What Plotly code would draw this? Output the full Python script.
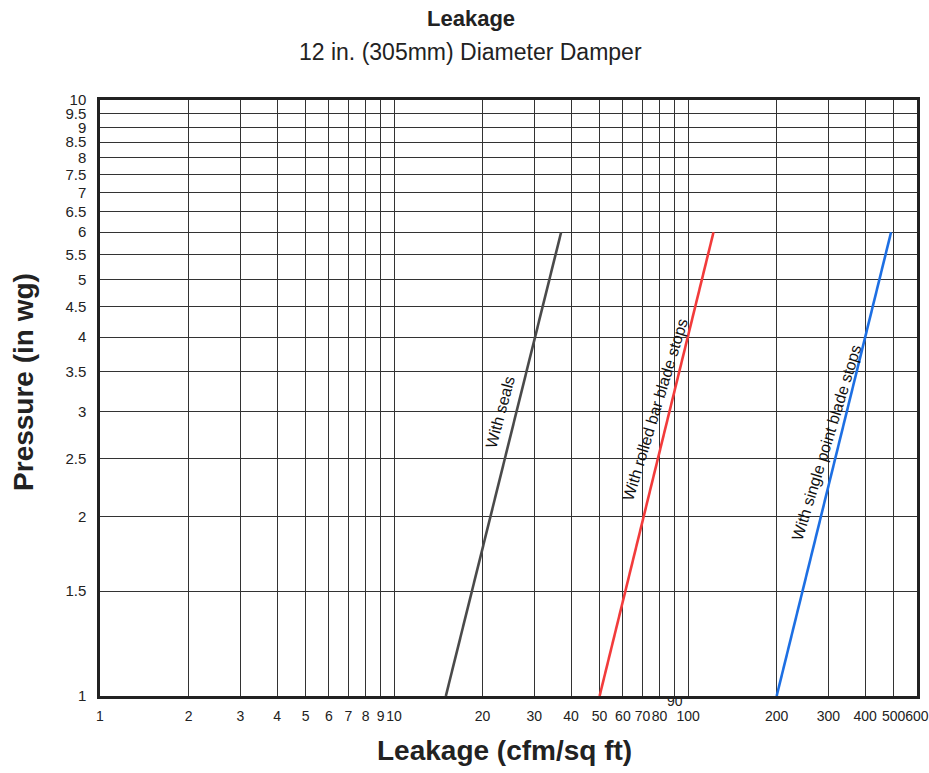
import math
import plotly.graph_objects as go

# ---- data ----
series_names = ["With seals", "With rolled bar blade stops", "With single point blade stops"]
leak_start = [15, 50, 200]       # cfm/sq ft at 1 in wg
leak_end = [37, 122, 490]        # cfm/sq ft at 6 in wg
pressure_start = [1, 1, 1]
pressure_end = [6, 6, 6]
line_colors = ["#4a4a4a", "#f23b3b", "#1d6fe3"]

x_ticks = [1, 2, 3, 4, 5, 6, 7, 8, 9, 10, 20, 30, 40, 50, 60, 70, 80, 90, 100, 200, 300, 400, 500, 600]
x_labels = ["1", "2", "3", "4", "5", "6", "7", "8", "9", "10", "20", "30", "40", "50", "60", "70", "80", "", "100", "200", "300", "400", "500", "600"]
y_ticks = [1, 1.5, 2, 2.5, 3, 3.5, 4, 4.5, 5, 5.5, 6, 6.5, 7, 7.5, 8, 8.5, 9, 9.5, 10]
y_labels = ["1", "1.5", "2", "2.5", "3", "3.5", "4", "4.5", "5", "5.5", "6", "6.5", "7", "7.5", "8", "8.5", "9", "9.5", "10"]

# label positions (data coordinates) and angles
label_x = [23.0, 77.5, 296]
label_y = [3.0, 3.02, 2.66]
label_angle = [-75, -73, -73]

FONT = "Liberation Sans, Arial, Helvetica, sans-serif"

fig = go.Figure()
for i, name in enumerate(series_names):
    fig.add_trace(go.Scatter(
        x=[leak_start[i], leak_end[i]],
        y=[pressure_start[i], pressure_end[i]],
        mode="lines",
        line=dict(color=line_colors[i], width=2.6),
        name=name,
        showlegend=False,
        hoverinfo="skip",
    ))
    fig.add_annotation(
        x=math.log10(label_x[i]), y=math.log10(label_y[i]),
        xref="x", yref="y",
        text=name, showarrow=False, textangle=label_angle[i],
        xanchor="center", yanchor="middle",
        font=dict(family=FONT, size=16, color="#111"),
    )

# shifted "90" tick label
fig.add_annotation(
    x=math.log10(90), y=-0.009, xref="x", yref="paper",
    text="90", showarrow=False, xanchor="center", yanchor="middle",
    font=dict(family=FONT, size=14, color="#222"),
)

# titles
fig.add_annotation(x=0.4535, y=1.137, xref="paper", yref="paper", text="<b>Leakage</b>",
                   showarrow=False, xanchor="center", yanchor="middle",
                   font=dict(family=FONT, size=22, color="#222"))
fig.add_annotation(x=0.4535, y=1.080, xref="paper", yref="paper", text="12 in. (305mm) Diameter Damper",
                   showarrow=False, xanchor="center", yanchor="middle",
                   font=dict(family=FONT, size=23, color="#222"))
fig.add_annotation(x=0.4957, y=-0.091, xref="paper", yref="paper", text="<b>Leakage (cfm/sq ft)</b>",
                   showarrow=False, xanchor="center", yanchor="middle",
                   font=dict(family=FONT, size=28, color="#222"))
fig.add_annotation(x=-0.093, y=0.527, xref="paper", yref="paper", text="<b>Pressure (in wg)</b>",
                   showarrow=False, textangle=-90, xanchor="center", yanchor="middle",
                   font=dict(family=FONT, size=28, color="#222"))

fig.update_xaxes(
    type="log", range=[0, math.log10(600.3)],
    tickvals=x_ticks, ticktext=x_labels, tickangle=0,
    showgrid=True, gridcolor="#333", gridwidth=1,
    showline=True, linecolor="#222", linewidth=2.5, mirror=True,
    ticks="", ticklabelstandoff=5, automargin=False,
    tickfont=dict(family=FONT, size=14, color="#222"),
    zeroline=False,
)
fig.update_yaxes(
    type="log", range=[0, 1],
    tickvals=y_ticks, ticktext=y_labels,
    showgrid=True, gridcolor="#333", gridwidth=1,
    showline=True, linecolor="#222", linewidth=2.5, mirror=True,
    ticks="", ticklabelstandoff=8, automargin=False,
    tickfont=dict(family=FONT, size=15, color="#222"),
    zeroline=False,
)
fig.update_layout(
    width=929, height=773,
    margin=dict(l=100, r=12, t=100, b=77),
    paper_bgcolor="white", plot_bgcolor="white",
    showlegend=False,
)
fig.write_html("out.html", config={"displayModeBar": False},
               post_script="document.body.style.margin='0';")
